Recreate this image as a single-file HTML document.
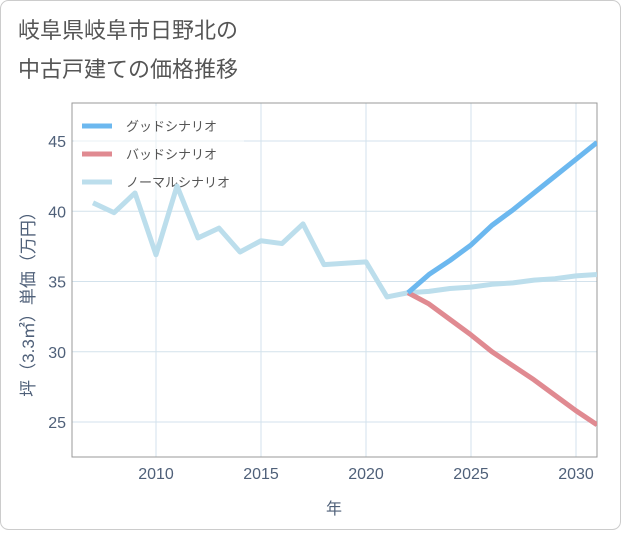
<!DOCTYPE html>
<html><head><meta charset="utf-8"><style>
body{margin:0;background:#fff;font-family:"Liberation Sans","Noto Sans CJK JP",sans-serif;}
#wrap{position:relative;width:621px;height:530px;}
</style></head><body>
<div id="wrap">
<svg id="svg" width="621" height="530" xmlns="http://www.w3.org/2000/svg">
<rect x="0.5" y="0.5" width="620" height="529" rx="8" fill="#fff" stroke="#ccc"/>
<text x="18" y="38" font-size="22" fill="#555">岐阜県岐阜市日野北の</text>
<text x="18" y="77" font-size="22" fill="#555">中古戸建ての価格推移</text>
<g id="grid"></g>
<rect x="72" y="103" width="525" height="354" fill="none" stroke="#999"/>
<g id="series"></g>
<g id="ticks" font-size="16" fill="#4f6079"></g>
<text x="334" y="514" font-size="16" fill="#4f6079" text-anchor="middle">年</text>
<text transform="translate(34,300) rotate(-90)" font-size="17" fill="#4f6079" text-anchor="middle">坪（3.3㎡）単価（万円）</text>
<g>
<rect x="74" y="106" width="170" height="94" fill="#fff" fill-opacity="0.5"/>
<line x1="82" y1="126" x2="112" y2="126" stroke="#6cb8ef" stroke-width="5"/>
<text x="126" y="131" font-size="13" fill="#555">グッドシナリオ</text>
<line x1="82" y1="154" x2="112" y2="154" stroke="#e08a91" stroke-width="5"/>
<text x="126" y="159" font-size="13" fill="#555">バッドシナリオ</text>
<line x1="82" y1="182" x2="112" y2="182" stroke="#bcdeec" stroke-width="5"/>
<text x="126" y="187" font-size="13" fill="#555">ノーマルシナリオ</text>
</g>
<g id="series2"></g>
</svg>
</div>
<script>
const normalYears=[2007,2008,2009,2010,2011,2012,2013,2014,2015,2016,2017,2018,2019,2020,2021,2022,2023,2024,2025,2026,2027,2028,2029,2030,2031];
const normalValues=[40.6,39.9,41.3,36.9,41.8,38.1,38.8,37.1,37.9,37.7,39.1,36.2,36.3,36.4,33.9,34.2,34.3,34.5,34.6,34.8,34.9,35.1,35.2,35.4,35.5];
const goodYears=[2022,2023,2024,2025,2026,2027,2028,2029,2030,2031];
const goodValues=[34.2,35.5,36.5,37.6,39.0,40.1,41.3,42.5,43.7,44.9];
const badYears=[2022,2023,2024,2025,2026,2027,2028,2029,2030,2031];
const badValues=[34.2,33.4,32.3,31.2,30.0,29.0,28.0,26.9,25.8,24.8];
const xTicks=[2010,2015,2020,2025,2030];
const yTicks=[25,30,35,40,45];
const NS="http://www.w3.org/2000/svg";
const X0=72,X1=597,Y0=457,Y1=103;
function xs(v){return 156+(v-2010)*21;}
function ys(v){return 422-(v-25)*14.05;}
function mk(t,a){const e=document.createElementNS(NS,t);for(const k in a)e.setAttribute(k,a[k]);return e;}
const grid=document.getElementById('grid'),ticks=document.getElementById('ticks'),ser=document.getElementById('series2');
xTicks.forEach(t=>{
 const l=mk('line',{x1:xs(t),x2:xs(t),y1:Y1,y2:Y0,stroke:'#d3e2ec'});
 
 
 grid.appendChild(l);
 const tx=mk('text',{x:xs(t),y:479,'text-anchor':'middle'});tx.textContent=t;
 
 
 ticks.appendChild(tx);
});
yTicks.forEach(t=>{
 const l=mk('line',{x1:X0,x2:X1,y1:ys(t),y2:ys(t),stroke:'#d3e2ec'});
 
 
 grid.appendChild(l);
 const tx=mk('text',{x:66,y:ys(t)+6,'text-anchor':'end'});tx.textContent=t;
 
 
 ticks.appendChild(tx);
});
function line(xv,yv,c,name){
 const pts=xv.map((x,i)=>xs(x)+','+ys(yv[i])).join(' ');
 const p=mk('polyline',{points:pts,fill:'none',stroke:c,'stroke-width':5,'stroke-linejoin':'round'});
 
 
 ser.appendChild(p);
}
const clip=mk('clipPath',{id:'cp'});clip.appendChild(mk('rect',{x:X0,y:Y1,width:X1-X0,height:Y0-Y1}));
document.getElementById('svg').appendChild(clip);
ser.setAttribute('clip-path','url(#cp)');
line(normalYears,normalValues,'#bcdeec','normal-scenario-line');
line(badYears,badValues,'#e08a91','bad-scenario-line');
line(goodYears,goodValues,'#6cb8ef','good-scenario-line');
</script>
</body></html>
